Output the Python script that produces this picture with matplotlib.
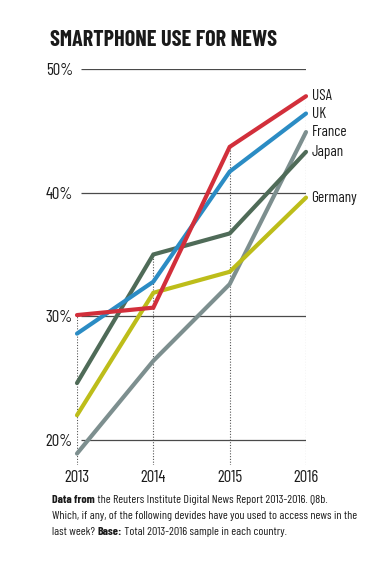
import matplotlib.pyplot as plt

years = [2013, 2014, 2015, 2016]
countries = ["France", "Germany", "Japan", "UK", "USA"]
usa = [30.1, 30.7, 43.7, 47.8]
uk = [28.6, 32.8, 41.7, 46.4]
france = [18.9, 26.4, 32.6, 44.9]
japan = [24.6, 35.0, 36.7, 43.3]
germany = [22.0, 31.9, 33.6, 39.6]
series = [france, germany, japan, uk, usa]
colors = ["#7d8f8f", "#bdbd1a", "#4f6b58", "#2b8cc4", "#d22f3b"]
yticks = [20, 30, 40, 50]

plt.rcParams["font.family"] = ["Barlow Condensed", "DejaVu Sans"]

W, H = 373, 567
fig = plt.figure(figsize=(W / 100, H / 100), dpi=100)
ax = fig.add_axes([77 / W, 1 - 464.7 / H, (306 - 77) / W, (464.7 - 69) / H])
ax.set_xlim(2013, 2016)
ax.set_ylim(18, 50)

# horizontal rules and dotted year lines
ax.hlines(yticks, 2013.05, 2016, color="#4a4a4a", lw=0.9, zorder=1)
tops = [max(v) for v in zip(*series)]
ax.vlines(years, 18, tops, color="#555555", lw=0.8, linestyles=(0, (1, 1.5)), zorder=1)

for name, vals, c in zip(countries, series, colors):
    ax.plot(years, vals, color=c, lw=3.0, solid_capstyle="round",
            solid_joinstyle="miter", clip_on=False, zorder=3)
    ax.annotate(name, (years[-1], vals[-1]), xytext=(4, 0), textcoords="offset points",
                va="center", ha="left", fontsize=11, color="#1a1a1a")

ax.set_yticks(yticks)
ax.set_yticklabels([f"{t}%" for t in yticks])
ax.set_xticks(years)
ax.set_xticklabels([str(y) for y in years])
ax.tick_params(length=0, labelsize=12, colors="#1a1a1a")
ax.tick_params(axis="y", pad=3)
ax.tick_params(axis="x", pad=4)
for s in ax.spines.values():
    s.set_visible(False)

fig.text(50 / W, 1 - 46.5 / H, "SMARTPHONE USE FOR NEWS", fontsize=16,
         fontweight="bold", color="#1a1a1a", va="baseline")

# footnote with bold runs
fs = 8.6
lines = [
    [("Data from", "bold"), (" the Reuters Institute Digital News Report 2013-2016. Q8b.", "normal")],
    [("Which, if any, of the following devides have you used to access news in the", "normal")],
    [("last week? ", "normal"), ("Base:", "bold"), (" Total 2013-2016 sample in each country.", "normal")],
]
y0 = 503
for i, parts in enumerate(lines):
    last = None
    for txt, wt in parts:
        if last is None:
            last = fig.text(52 / W, 1 - (y0 + i * 16) / H, txt, fontsize=fs,
                            fontweight=wt, color="#1a1a1a", va="baseline")
        else:
            last = ax.annotate(txt, xy=(1, 0), xycoords=last, fontsize=fs,
                               fontweight=wt, color="#1a1a1a", va="bottom", ha="left")

fig.savefig("out.png", dpi=100)
